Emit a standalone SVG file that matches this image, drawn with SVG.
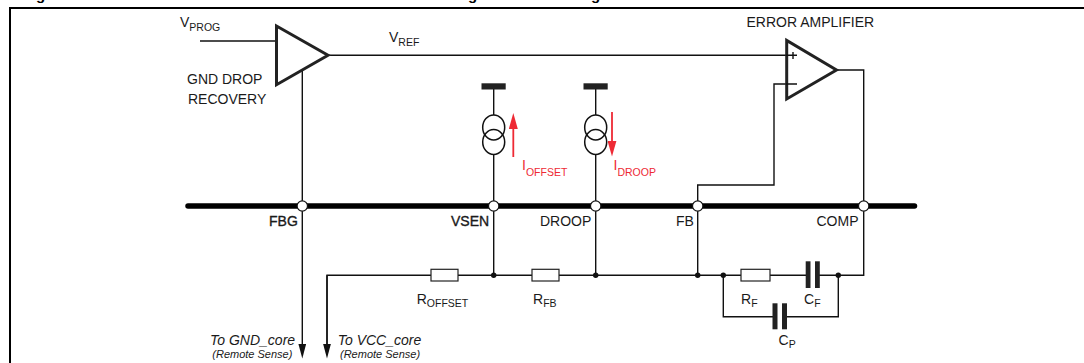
<svg xmlns="http://www.w3.org/2000/svg" width="1084" height="363" viewBox="0 0 1084 363">
<defs>
<style>
text{font-family:"Liberation Sans",Arial,sans-serif;font-size:14px;fill:#1a1a1a}
.sub{font-size:10.5px}
.red,.red .sub{fill:#ee2a35}
.w{fill:none;stroke:#111;stroke-width:1.4}
.tri{fill:#fff;stroke:#222;stroke-width:3;stroke-linejoin:miter}
.res{fill:#fff;stroke:#222;stroke-width:1.2}
.cap{fill:#222}
.pin{fill:#fff;stroke:#111;stroke-width:1.2}
.dot{fill:#111}
.src{fill:none;stroke:#111;stroke-width:1.5}
.it{font-style:italic}
.small{font-size:11px;font-style:italic}
.title{font-size:15px;font-weight:bold;fill:#000}
.heavy{stroke:#1a1a1a;stroke-width:.35}
.ra{fill:none;stroke:#ee2a35;stroke-width:1.800}
</style>
<marker id="head" viewBox="0 0 15 8" markerWidth="15" markerHeight="8" refX="8" refY="4" orient="auto" markerUnits="userSpaceOnUse"><path d="M0 0L15 4L0 8Z" fill="#111"/></marker>
<marker id="headr" viewBox="0 0 16 9" markerWidth="16" markerHeight="9" refX="8" refY="4.500" orient="auto" markerUnits="userSpaceOnUse"><path d="M0 0L16 4.500L0 9Z" fill="#ee2a35"/></marker>
</defs>
<rect width="1084" height="363" fill="#fff"/>
<path d="M1084 8H10V363" fill="none" stroke="#000" stroke-width="2"/>
<text class="title" x="36" y="0">g</text><text class="title" x="468" y="0">g</text><text class="title" x="591" y="0">g</text>
<g id="connectors">
<path class="w" d="M200 41H276"/>
<path class="w" d="M328 55.300H797"/>
<path class="w" d="M302.300 70V351.500" marker-end="url(#head)"/>
<path class="w" d="M327 351.500V275.300H431" marker-end="none"/>
<path class="w" d="M327 275.300V351.500" marker-end="url(#head)"/>
<path class="w" d="M458 275.300H532M559 275.300H741M770 275.300H806M819 275.300H863.700V70H836"/>
<path class="w" d="M493.700 88V115M493.700 155V275.300"/>
<path class="w" d="M595.700 88V115M595.700 155V275.300"/>
<path class="w" d="M697.700 275.300V185H774V84H797"/>
<path class="w" d="M723.300 275.300V316.700H773M786 316.700H838.300V275.300"/>
<path d="M188 206H914.500" stroke="#000" stroke-width="5.500" stroke-linecap="round" fill="none"/>
<path class="ra" d="M513.300 157V121" marker-end="url(#headr)"/>
<path class="ra" d="M612 112V148.600" marker-end="url(#headr)"/>
</g>
<g id="buffer"><path class="tri" d="M276.500 26V84.700L328 55.300Z"/></g>
<g id="error-amp"><path class="tri" d="M786.700 40.400V99L836.500 70Z"/>
<path class="w" d="M786 55.300H797M793 52V59M786 84H797"/></g>
<g id="src-offset"><rect x="481.500" y="83.300" width="24.200" height="6.200" class="cap"/><ellipse class="src" cx="493.700" cy="127.400" rx="11" ry="12.500"/><ellipse class="src" cx="493.700" cy="142" rx="11" ry="12.500"/></g>
<g id="src-droop"><rect x="583.500" y="83.300" width="24.200" height="6.200" class="cap"/><ellipse class="src" cx="595.700" cy="127.400" rx="11" ry="12.500"/><ellipse class="src" cx="595.700" cy="142" rx="11" ry="12.500"/></g>
<g id="pins">
<circle class="pin" cx="302.300" cy="206" r="5.200"/><circle class="pin" cx="493.700" cy="206" r="5.200"/><circle class="pin" cx="595.700" cy="206" r="5.200"/><circle class="pin" cx="697.700" cy="206" r="5.200"/><circle class="pin" cx="863.700" cy="206" r="5.200"/>
<circle class="dot" cx="493.700" cy="275.300" r="2.700"/><circle class="dot" cx="595.700" cy="275.300" r="2.700"/><circle class="dot" cx="697.700" cy="275.300" r="2.700"/><circle class="dot" cx="723.300" cy="275.300" r="2.700"/><circle class="dot" cx="838.300" cy="275.300" r="2.700"/>
</g>
<g id="parts">
<rect class="res" x="431" y="269.300" width="27" height="11.700"/><rect class="res" x="532" y="269.300" width="27" height="11.700"/><rect class="res" x="741" y="269.300" width="29" height="11.700"/>
<rect class="cap" x="805.700" y="261.300" width="4.800" height="26.700"/><rect class="cap" x="815" y="261.300" width="4.800" height="26.700"/>
<rect class="cap" x="772.500" y="303.300" width="5" height="26"/><rect class="cap" x="782" y="303.300" width="5" height="26"/>
</g>
<g id="labels">
<text x="180" y="27">V<tspan class="sub" dy="4">PROG</tspan></text>
<text x="389" y="42">V<tspan class="sub" dy="4">REF</tspan></text>
<text x="187" y="84">GND DROP</text><text x="188" y="104">RECOVERY</text>
<text x="746.500" y="27">ERROR AMPLIFIER</text>
<text x="522" y="169.500" class="red">I<tspan class="sub" dy="6.500">OFFSET</tspan></text>
<text x="613.500" y="169.500" class="red">I<tspan class="sub" dy="6.500">DROOP</tspan></text>
<text x="269" y="226" class="heavy">FBG</text>
<text x="451" y="226" class="heavy">VSEN</text>
<text x="540" y="226">DROOP</text><text x="676" y="226">FB</text><text x="816.500" y="226">COMP</text>
<text x="416.700" y="303.500">R<tspan class="sub" dy="3.500">OFFSET</tspan></text>
<text x="533" y="303.500">R<tspan class="sub" dy="3.500">FB</tspan></text>
<text x="741" y="303.500">R<tspan class="sub" dy="3.500">F</tspan></text>
<text x="804" y="303.500">C<tspan class="sub" dy="3.500">F</tspan></text>
<text x="778.500" y="345">C<tspan class="sub" dy="3">P</tspan></text>
<text x="210" y="345.300" class="it">To GND_core</text><text x="212.300" y="357.700" class="small">(Remote Sense)</text>
<text x="337.700" y="345.300" class="it">To VCC_core</text><text x="340" y="357.700" class="small">(Remote Sense)</text>
</g>
</svg>
